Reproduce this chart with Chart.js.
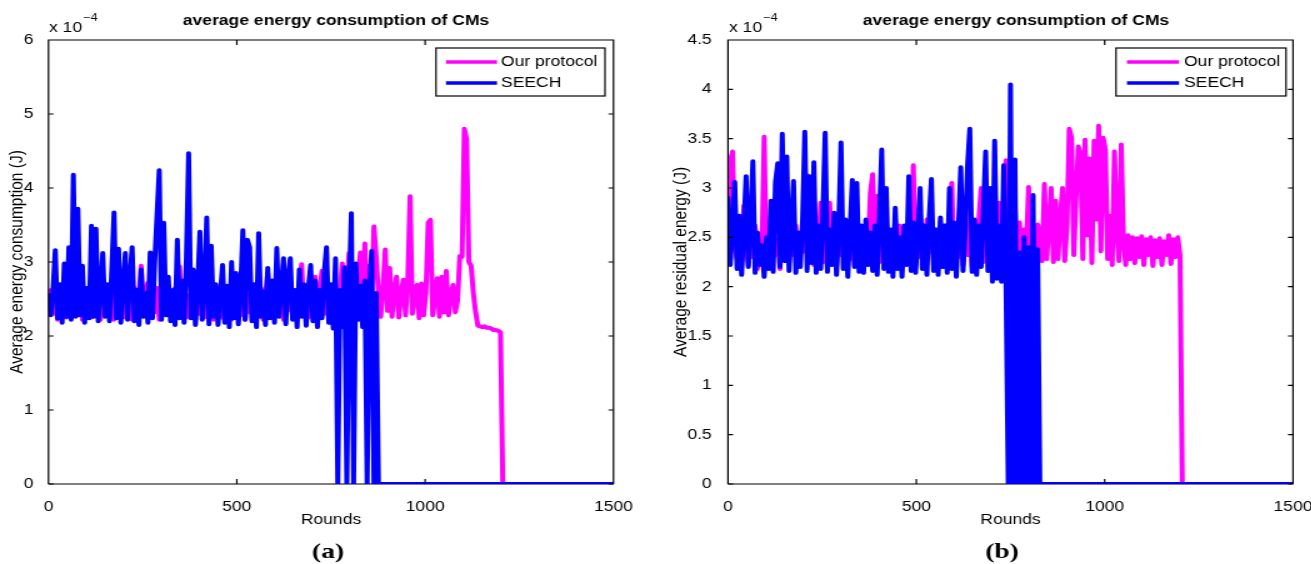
<!DOCTYPE html>
<html><head><meta charset="utf-8">
<script src="https://cdn.jsdelivr.net/npm/chart.js@4.4.1/dist/chart.umd.min.js"></script>
<style>
html,body{margin:0;padding:0;background:#fff;overflow:hidden;width:1311px;height:564px;}
.wrap{position:absolute;top:0;height:564px;transform-origin:0 0;transform:scaleX(1.25);}
#wa{left:0;width:524px;}
#wb{left:660px;width:523px;}
</style></head><body>
<div class="wrap" id="wa"><canvas id="ca"></canvas></div>
<div class="wrap" id="wb"><canvas id="cb"></canvas></div>
<script>
// ---- data ----
const ROUND_STEP = 6;          // rounds between samples
const LAST_ROUND = 1500;
const roundTicks = [0, 500, 1000, 1500];
const yTicksA = [0, 1, 2, 3, 4, 5, 6];
const yTicksB = [0, 0.5, 1, 1.5, 2, 2.5, 3, 3.5, 4, 4.5];
const seriesNames = ['Our protocol', 'SEECH'];
const titleText = 'average energy consumption of CMs';
const yTitleA = 'Average energy consumption (J)';
const yTitleB = 'Average residual energy (J)';
const xTitle = 'Rounds';
const panelLabels = ['(a)', '(b)'];
// values in units of 1e-6 J (axis shows x 10^-4)
const oursA = [
248,262,230,258,222,265,232,255,225,268,
235,260,300,228,262,222,255,232,262,225,
258,230,265,222,255,235,262,228,258,222,
265,232,255,225,262,230,258,222,265,235,
255,295,228,262,272,225,258,232,265,222,
255,230,262,228,258,222,265,235,294,228,
262,225,255,232,265,222,262,230,258,225,
265,232,255,222,262,230,258,225,265,232,
255,222,262,235,258,228,265,222,255,232,
262,225,258,230,265,222,255,285,232,262,
225,258,230,265,222,255,235,262,228,258,
222,265,297,230,258,225,262,232,280,222,
262,288,230,258,225,265,232,255,230,262,
298,228,265,312,235,290,258,280,313,262,
325,240,295,252,348,307,258,226,265,317,
234,292,226,262,280,225,258,276,228,278,
389,230,255,269,224,271,228,258,353,357,
228,252,278,226,280,232,288,228,255,269,
232,248,308,307,480,466,300,295,258,232,
214,213,212,213,211,211,210,208,208,207,
205,0];
const seechA = [
255,228,262,316,224,270,218,298,226,320,
222,418,226,372,228,295,218,265,224,349,
226,345,220,262,312,226,270,220,290,367,
224,318,218,268,312,222,278,320,220,262,
215,290,226,258,218,313,224,300,363,424,
222,353,228,280,220,262,215,330,224,275,
218,305,447,224,290,215,268,341,222,262,
360,216,322,226,270,215,255,296,218,268,
212,300,224,285,216,262,343,222,330,320,
220,270,212,339,226,260,215,292,224,275,
218,319,226,265,305,216,280,305,222,262,
212,290,226,270,214,265,296,220,275,212,
262,224,285,320,218,270,210,305,0,262,
212,293,0,255,366,0,298,222,268,212,
275,0,262,315,0,258,0];
const oursB = [
262,327,337,240,228,265,225,282,240,222,
258,230,262,218,250,232,352,225,258,222,
265,232,248,218,262,230,270,225,255,232,
262,220,250,235,268,313,228,262,222,255,
232,285,225,262,218,285,230,258,222,265,
232,250,220,262,228,255,222,268,230,258,
218,262,235,295,314,232,292,225,258,230,
265,222,255,232,268,220,262,228,258,225,
270,232,323,222,262,230,255,220,268,235,
262,222,258,228,265,220,262,232,255,305,
225,262,230,258,222,285,232,262,220,255,
228,268,300,225,262,232,275,222,262,228,
285,230,258,328,232,262,225,280,230,265,
222,258,240,301,228,262,235,263,
250,226,304,228,262,300,225,287,228,268,300,226,
262,360,351,232,290,342,335,228,349,252,
330,224,348,268,363,236,351,339,228,272,
222,337,258,226,344,245,222,252,228,250,
224,249,230,251,222,248,232,250,221,247,
230,249,222,246,232,252,223,248,230,250,
232,0];
const seechB = [
290,222,262,306,218,272,212,258,312,220,
262,327,214,255,222,242,210,250,218,287,
215,306,325,220,355,226,332,216,262,307,
214,255,220,268,357,216,312,224,326,214,
262,218,275,356,215,258,222,275,212,262,
346,218,268,210,258,308,220,305,215,262,
214,268,222,255,216,262,212,268,339,218,
300,215,258,210,280,218,250,210,262,222,
312,216,265,214,255,300,218,262,212,268,
309,216,258,212,270,220,262,214,300,218,
265,210,262,321,216,258,323,360,215,268,
212,262,220,275,337,216,300,205,348,208,
262,205,323,206,0,405,0,329,0,235,
0,250,0,240,0,293,0,238,0];

// ---- rendering ----
const FONT = "'Liberation Sans', Arial, Helvetica, sans-serif";
const COLORS = ['#ff00ff', '#0000ff'];

const toPoints = vals => vals.map((v, i) => ({x: i * ROUND_STEP, y: v / 100}))
  .concat([{x: LAST_ROUND, y: 0}]);

const geomA = {yAxisW: 38.8, padRight: 33.2, yTitlePad: 4.3, yTickPad: 4, titleX: 268.8, expX: 39.2, labelX: 262.4,
  legend: {x1: 348.8, x2: 484, y1: 48, y2: 96, lx1: 356.8, lx2: 397.6, tx: 400.8, rows: [62, 83]}};
const geomB = {yAxisW: 54.4, padRight: 16.6, yTitlePad: 7.5, yTickPad: 5, titleX: 284.8, expX: 55.2, labelX: 273.6,
  legend: {x1: 364.8, x2: 500.8, y1: 48, y2: 96, lx1: 373.6, lx2: 415.2, tx: 419.2, rows: [62, 83]}};

function decor(g, yTicks, label) {
  return {
    id: 'decor',
    beforeDatasetsDraw(chart) {
      const {ctx, chartArea: a} = chart;
      ctx.save(); ctx.strokeStyle = '#000'; ctx.lineWidth = 1.2;
      ctx.beginPath(); ctx.moveTo(a.left, a.bottom); ctx.lineTo(a.right, a.bottom); ctx.stroke();
      ctx.restore();
    },
    afterDatasetsDraw(chart) {
      const {ctx, chartArea: a, scales: {x, y}} = chart;
      ctx.save(); ctx.strokeStyle = '#000'; ctx.lineWidth = 1.2;
      ctx.beginPath();
      ctx.moveTo(a.left, a.bottom); ctx.lineTo(a.left, a.top); ctx.lineTo(a.right, a.top); ctx.lineTo(a.right, a.bottom);
      roundTicks.forEach(v => {
        const px = x.getPixelForValue(v);
        ctx.moveTo(px, a.bottom); ctx.lineTo(px, a.bottom - 5);
        ctx.moveTo(px, a.top); ctx.lineTo(px, a.top + 5);
      });
      yTicks.forEach(v => {
        const py = y.getPixelForValue(v);
        ctx.moveTo(a.left, py); ctx.lineTo(a.left + 4, py);
        ctx.moveTo(a.right, py); ctx.lineTo(a.right - 4, py);
      });
      ctx.stroke(); ctx.restore();
    },
    afterDraw(chart) {
      const ctx = chart.ctx;
      ctx.save();
      ctx.fillStyle = '#000';
      ctx.font = 'bold 14px ' + FONT; ctx.textAlign = 'center'; ctx.textBaseline = 'alphabetic';
      ctx.fillText(titleText, g.titleX, 25);
      ctx.font = '14px ' + FONT; ctx.textAlign = 'left';
      const base = 'x 10';
      ctx.fillText(base, g.expX, 32);
      const w = ctx.measureText(base).width;
      ctx.font = '10px ' + FONT;
      ctx.fillText('\u22124', g.expX + w + 1, 21);
      ctx.font = 'bold 22px "Liberation Serif", "Times New Roman", serif'; ctx.textAlign = 'center';
      ctx.fillText(label, g.labelX, 558);
      const L = g.legend;
      ctx.fillStyle = '#fff'; ctx.fillRect(L.x1, L.y1, L.x2 - L.x1, L.y2 - L.y1);
      ctx.strokeStyle = '#000'; ctx.lineWidth = 1.2; ctx.strokeRect(L.x1, L.y1, L.x2 - L.x1, L.y2 - L.y1);
      chart.data.datasets.forEach((ds, i) => {
        const ry = L.rows[i];
        ctx.strokeStyle = ds.borderColor; ctx.lineWidth = 3.5;
        ctx.beginPath(); ctx.moveTo(L.lx1, ry); ctx.lineTo(L.lx2, ry); ctx.stroke();
        ctx.fillStyle = '#000'; ctx.font = '14px ' + FONT; ctx.textAlign = 'left'; ctx.textBaseline = 'middle';
        ctx.fillText(ds.label, L.tx, ry);
      });
      ctx.restore();
    }
  };
}

function makeChart(id, ours, seech, yTicks, yTitle, g, label) {
  const font = {family: FONT, size: 14};
  const yTitleFont = {family: FONT, size: 15.5};
  const lineDs = (i, vals, order) => ({
    label: seriesNames[i], data: toPoints(vals), borderColor: COLORS[i], backgroundColor: COLORS[i],
    borderWidth: 4, pointRadius: 0, tension: 0, fill: false,
    borderJoinStyle: 'round', borderCapStyle: 'round', order: order
  });
  return new Chart(document.getElementById(id), {
    type: 'line',
    data: {datasets: [lineDs(0, ours, 1), lineDs(1, seech, 0)]},
    options: {
      responsive: true, maintainAspectRatio: false, animation: false, devicePixelRatio: 1, events: [],
      layout: {padding: {left: 0, right: g.padRight, top: 40, bottom: 30}},
      plugins: {legend: {display: false}, tooltip: {enabled: false}, title: {display: false}},
      scales: {
        x: {
          type: 'linear', min: 0, max: LAST_ROUND,
          grid: {display: false}, border: {display: false},
          afterBuildTicks: s => { s.ticks = roundTicks.map(v => ({value: v})); },
          afterFit: s => { s.height = 50; s.paddingLeft = 0; s.paddingRight = 0; },
          ticks: {color: '#000', font: font, padding: 7, maxRotation: 0, autoSkip: false, callback: v => String(v)},
          title: {display: true, text: xTitle, color: '#000', font: font, padding: {top: 0, bottom: 5.6}}
        },
        y: {
          type: 'linear', min: yTicks[0], max: yTicks[yTicks.length - 1],
          grid: {display: false}, border: {display: false},
          afterBuildTicks: s => { s.ticks = yTicks.map(v => ({value: v})); },
          afterFit: s => { s.width = g.yAxisW; },
          ticks: {color: '#000', font: font, padding: g.yTickPad, autoSkip: false, callback: v => String(v)},
          title: {display: true, text: yTitle, color: '#000', font: yTitleFont, padding: {top: g.yTitlePad, bottom: 0}}
        }
      }
    },
    plugins: [decor(g, yTicks, label)]
  });
}

makeChart('ca', oursA, seechA, yTicksA, yTitleA, geomA, panelLabels[0]);
makeChart('cb', oursB, seechB, yTicksB, yTitleB, geomB, panelLabels[1]);
</script>
</body></html>
